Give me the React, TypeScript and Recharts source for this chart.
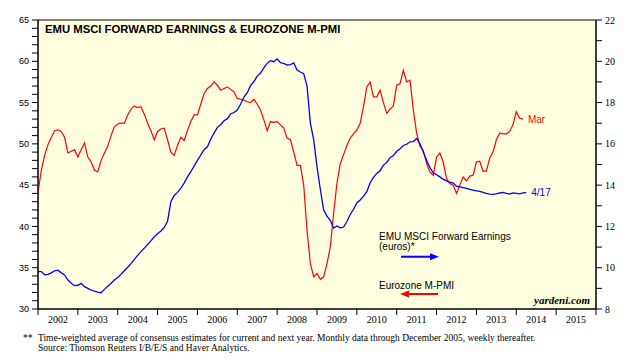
/**
 * EMU MSCI forward earnings vs Eurozone manufacturing PMI.
 * Two y axes (PMI left, earnings in euros right), numeric time axis in years.
 */

import {
  ComposedChart,
  LabelList,
  Line,
  ReferenceArea,
  XAxis,
  YAxis,
} from 'recharts';

// ---------------------------------------------------------------------------
// Data (monthly from Jan 2002)
// ---------------------------------------------------------------------------

const START_YEAR = 2002;

// Eurozone M-PMI, Jan 2002 .. Mar 2014 (left axis)
const pmiValues = [
  44.1, 46.8, 48.6, 49.9, 50.8, 51.6, 51.7, 51.5, 50.8, 48.9, 49.1, 49.3,
  48.4, 49.3, 50.1, 48.4, 47.8, 46.8, 46.6, 48.0, 48.9, 49.7, 51.0, 52.1,
  52.4, 52.5, 52.5, 53.5, 54.2, 54.6, 54.4, 54.5, 53.6, 52.5, 51.6, 50.5,
  51.5, 51.8, 51.9, 50.5, 49.0, 48.6, 49.8, 50.8, 50.4, 51.6, 52.7, 53.5,
  53.5, 54.8, 56.1, 56.7, 57.0, 57.5, 57.1, 56.5, 56.7, 56.9, 56.6, 56.3,
  55.5, 55.4, 55.3, 55.1, 55.0, 55.4, 54.8, 54.1, 52.9, 51.6, 52.7, 52.6,
  52.7, 52.3, 51.9, 50.7, 50.5, 49.0, 47.4, 47.4, 45.0, 39.5, 35.5, 33.9,
  34.3, 33.6, 33.9, 35.5, 37.5, 41.6, 45.2, 47.6, 48.7, 49.8, 50.7, 51.2,
  51.7, 52.5, 54.5, 56.9, 57.5, 55.7, 55.7, 56.5, 55.0, 53.7, 54.2, 54.6,
  57.1, 57.3, 58.9, 57.5, 57.7, 54.1, 51.3, 49.7, 49.2, 47.6, 46.6, 46.2,
  48.4, 48.9, 47.8, 45.8, 45.2, 45.0, 44.0, 45.0, 46.0, 45.5, 46.1, 46.2,
  47.8, 47.9, 46.7, 46.7, 48.3, 49.0, 50.5, 51.3, 51.2, 51.2, 51.5, 52.3,
  53.9, 53.1, 53.0,
];

// EMU MSCI forward earnings in euros, Jan 2002 .. Apr 2014 (right axis)
const earningsValues = [
  9.81, 9.81, 9.66, 9.68, 9.75, 9.85, 9.88, 9.75, 9.65, 9.40, 9.25, 9.13,
  9.15, 9.24, 9.08, 9.00, 8.92, 8.86, 8.82, 8.79, 8.95, 9.10, 9.25, 9.40,
  9.52, 9.68, 9.85, 10.02, 10.20, 10.40, 10.60, 10.78, 10.95, 11.12, 11.30, 11.50,
  11.65, 11.78, 11.95, 12.25, 13.20, 13.50, 13.65, 13.85, 14.10, 14.40, 14.65, 14.92,
  15.20, 15.46, 15.72, 15.86, 16.22, 16.52, 16.80, 16.93, 17.12, 17.22, 17.45, 17.52,
  17.64, 17.93, 18.27, 18.48, 18.82, 19.02, 19.28, 19.43, 19.68, 19.90, 20.03, 19.98,
  20.12, 19.93, 19.90, 19.82, 19.84, 19.92, 19.58, 19.48, 19.40, 18.80, 17.00, 16.20,
  14.90, 13.80, 12.80, 12.50, 12.30, 11.92, 12.02, 11.93, 11.97, 12.24, 12.58, 12.83,
  13.14, 13.28, 13.47, 13.68, 14.12, 14.38, 14.57, 14.70, 14.97, 15.10, 15.33, 15.43,
  15.64, 15.76, 15.92, 15.98, 16.10, 16.11, 16.26, 16.00, 15.60, 15.20, 14.85, 14.60,
  14.50, 14.40, 14.28, 14.21, 14.14, 14.10, 13.95, 13.92, 13.88, 13.84, 13.80, 13.76,
  13.72, 13.70, 13.65, 13.60, 13.56, 13.55, 13.58, 13.62, 13.65, 13.60, 13.57, 13.62,
  13.60, 13.58, 13.63, 13.64,
];

const yearTicks = [
  2002, 2003, 2004, 2005, 2006, 2007, 2008, 2009, 2010, 2011, 2012, 2013, 2014,
  2015, 2016,
];
const pmiTicks = Array.from({ length: 36 }, (_, i) => 30 + i);
const earningsTicks = Array.from({ length: 15 }, (_, i) => 8 + i);

const pmiData = pmiValues.map((v, i) => ({ t: START_YEAR + i / 12, pmi: v }));
const earningsData = earningsValues.map((v, i) => ({
  t: START_YEAR + i / 12,
  eps: v,
}));

// ---------------------------------------------------------------------------
// Layout
// ---------------------------------------------------------------------------

const W = 632;
const H = 362;
const LEFT_AXIS_W = 38;
const RIGHT_AXIS_W = 36;
const HALF_YEAR_PX = (W - LEFT_AXIS_W - RIGHT_AXIS_W) / 14 / 2;

const RED = '#ff0000';
const BLUE = '#0000ff';
const SANS = "'Liberation Sans', Arial, sans-serif";
const SERIF = "'Liberation Serif', 'Times New Roman', serif";

function LeftTick(props: any) {
  const { x, y, payload } = props;
  if (payload.value % 5 !== 0) return null;
  return (
    <text x={x} y={y} dy="0.35em" textAnchor="end" fontSize={9} fontFamily={SANS} fill="#000">
      {payload.value}
    </text>
  );
}

function RightTick(props: any) {
  const { x, y, payload } = props;
  if (payload.value % 2 !== 0) return null;
  return (
    <text x={x} y={y} dy="0.35em" textAnchor="start" fontSize={10} fontFamily={SERIF} fill="#000">
      {payload.value}
    </text>
  );
}

function YearTick(props: any) {
  const { x, y, payload } = props;
  if (payload.value >= 2016) return null;
  return (
    <text x={x + HALF_YEAR_PX} y={y} dy="0.6em" textAnchor="middle" fontSize={10} fontFamily={SERIF} fill="#000">
      {payload.value}
    </text>
  );
}

function endLabel(text: string, color: string, last: number) {
  return (props: any) => {
    if (props.index !== last) return null;
    return (
      <text x={props.x + 5} y={props.y} dy="0.35em" fontSize={10} fontFamily={SANS} fill={color}>
        {text}
      </text>
    );
  };
}

// ---------------------------------------------------------------------------
// Component
// ---------------------------------------------------------------------------

export default function App() {
  return (
    <div style={{ position: 'absolute', left: 0, top: 0, width: W, height: H, background: '#fff' }}>
      <ComposedChart width={W} height={H} margin={{ top: 20, right: 0, bottom: 23, left: 0 }}>
        <XAxis
          dataKey="t"
          type="number"
          domain={[2002, 2016]}
          ticks={yearTicks}
          interval={0}
          allowDataOverflow
          height={30}
          tickSize={6}
          tick={<YearTick />}
          stroke="#000"
        />
        <YAxis
          yAxisId="left"
          orientation="left"
          domain={[30, 65]}
          ticks={pmiTicks}
          interval={0}
          width={LEFT_AXIS_W}
          tickSize={6}
          tickMargin={3}
          tick={<LeftTick />}
          stroke="#000"
        />
        <YAxis
          yAxisId="right"
          orientation="right"
          domain={[8, 22]}
          ticks={earningsTicks}
          interval={0}
          width={RIGHT_AXIS_W}
          tickSize={6}
          tickMargin={3}
          tick={<RightTick />}
          stroke="#000"
        />

        <ReferenceArea
          yAxisId="left"
          x1={2002}
          x2={2016}
          y1={30}
          y2={65}
          fill="#ffffe0"
          fillOpacity={1}
          stroke="#000"
          strokeWidth={1}
        />

        <Line
          yAxisId="left"
          data={pmiData}
          dataKey="pmi"
          type="linear"
          stroke={RED}
          strokeWidth={1.2}
          dot={false}
          isAnimationActive={false}
        >
          <LabelList dataKey="pmi" content={endLabel('Mar', RED, pmiValues.length - 1)} />
        </Line>
        <Line
          yAxisId="right"
          data={earningsData}
          dataKey="eps"
          type="linear"
          stroke={BLUE}
          strokeWidth={1.3}
          dot={false}
          isAnimationActive={false}
        >
          <LabelList dataKey="eps" content={endLabel('4/17', BLUE, earningsValues.length - 1)} />
        </Line>
      </ComposedChart>

      <svg width={W} height={H} style={{ position: 'absolute', left: 0, top: 0, pointerEvents: 'none' }}>
        <text x={45} y={33} fontSize={11.3} fontWeight="bold" fontFamily={SANS} fill="#000">
          EMU MSCI FORWARD EARNINGS &amp; EUROZONE M-PMI
        </text>

        <text x={379} y={239.5} fontSize={10} fontFamily={SANS} fill="#000">
          EMU MSCI Forward Earnings
        </text>
        <text x={379} y={249.5} fontSize={10} fontFamily={SANS} fill="#000">
          (euros)*
        </text>
        <line x1={401} y1={256.7} x2={432} y2={256.7} stroke={BLUE} strokeWidth={2} />
        <polygon points="439,256.7 430,253.2 430,260.2" fill={BLUE} />

        <text x={379} y={288.5} fontSize={10} fontFamily={SANS} fill="#000">
          Eurozone M-PMI
        </text>
        <line x1={407} y1={294} x2={438} y2={294} stroke={RED} strokeWidth={2} />
        <polygon points="400,294 409,290.5 409,297.5" fill={RED} />

        <text x={590} y={304} textAnchor="end" fontSize={11} fontStyle="italic" fontWeight="bold" fontFamily={SERIF} fill="#000">
          yardeni.com
        </text>

        <text x={23} y={341} fontSize={9.5} fontFamily={SERIF} fill="#000">**</text>
        <text x={38} y={341} fontSize={9.5} fontFamily={SERIF} fill="#000">
          Time-weighted average of consensus estimates for current and next year. Monthly data through December 2005, weekly thereafter.
        </text>
        <text x={38} y={350.5} fontSize={9.5} fontFamily={SERIF} fill="#000">
          Source: Thomson Reuters I/B/E/S and Haver Analytics.
        </text>
      </svg>
    </div>
  );
}
